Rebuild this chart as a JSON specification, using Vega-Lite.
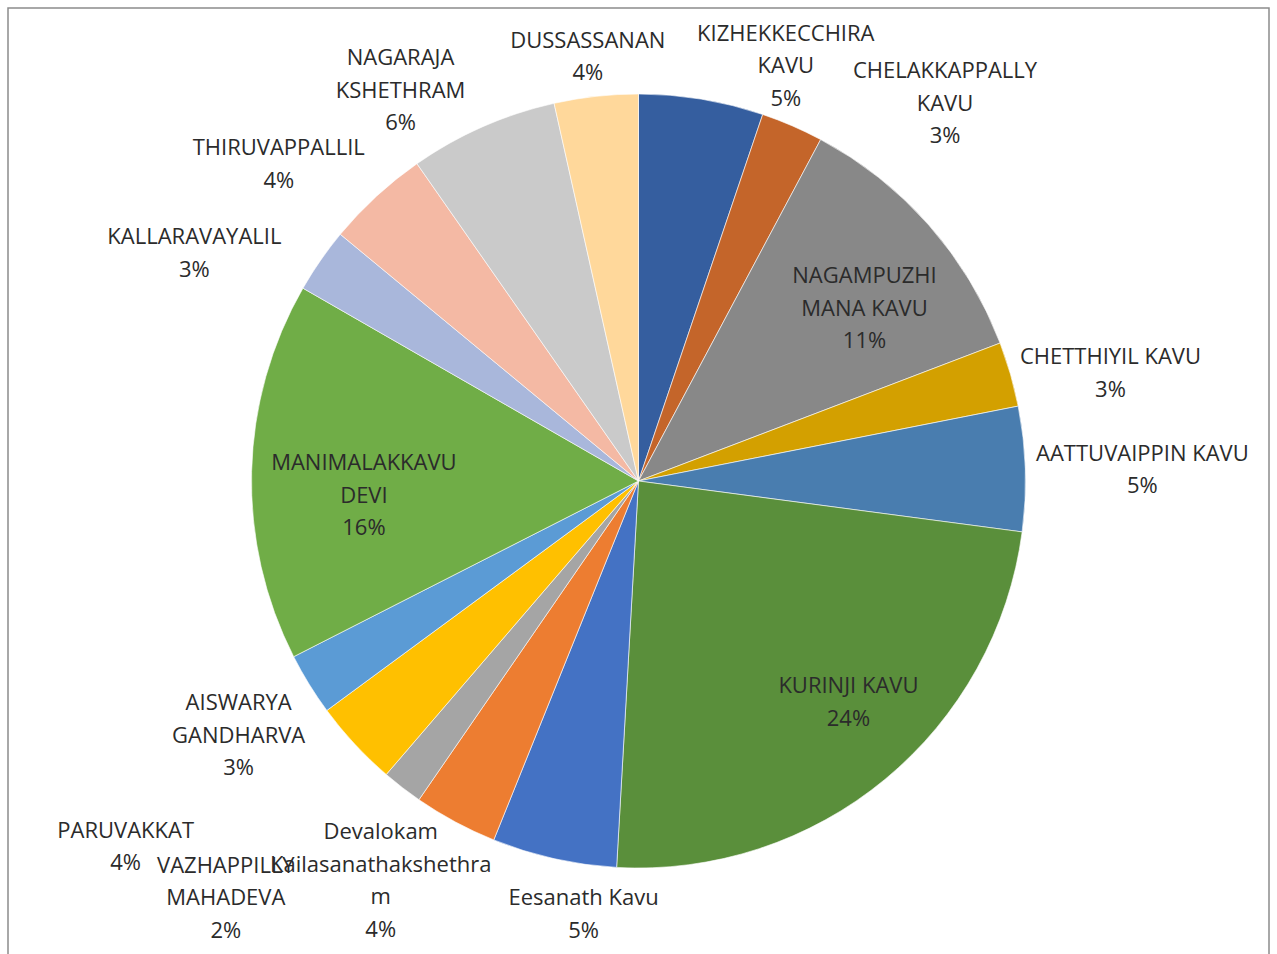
{
  "$schema": "https://vega.github.io/schema/vega-lite/v6.json",
  "width": 1261,
  "height": 946,
  "autosize": "none",
  "padding": {"left": 8, "top": 8, "right": 8, "bottom": 0},
  "background": "#ffffff",
  "config": {
    "view": {"stroke": null},
    "text": {"font": "Open Sans", "fontSize": 22, "lineHeight": 32.5, "lineBreak": "\n", "align": "center", "baseline": "middle", "color": "#2b2b2b"}
  },
  "layer": [
    {
      "data": {"values": [{"frame": 1}]},
      "mark": {"type": "rect", "fill": null, "stroke": "#8c8c8c", "strokeWidth": 1.5},
      "encoding": {
        "x": {"value": 0},
        "x2": {"value": "width"},
        "y": {"value": 0},
        "y2": {"value": {"expr": "height + 6"}}
      }
    },
    {
      "data": {
        "values": [
          {"i": 1, "name": "KIZHEKKECCHIRA KAVU", "label": "KIZHEKKECCHIRA\nKAVU\n5%", "value": 5.2},
          {"i": 2, "name": "CHELAKKAPPALLY KAVU", "label": "CHELAKKAPPALLY\nKAVU\n3%", "value": 2.6},
          {"i": 3, "name": "NAGAMPUZHI MANA KAVU", "label": "NAGAMPUZHI\nMANA KAVU\n11%", "value": 11.4},
          {"i": 4, "name": "CHETTHIYIL KAVU", "label": "CHETTHIYIL KAVU\n3%", "value": 2.7},
          {"i": 5, "name": "AATTUVAIPPIN KAVU", "label": "AATTUVAIPPIN KAVU\n5%", "value": 5.2},
          {"i": 6, "name": "KURINJI KAVU", "label": "KURINJI KAVU\n24%", "value": 23.8},
          {"i": 7, "name": "Eesanath Kavu", "label": "Eesanath Kavu\n5%", "value": 5.2},
          {"i": 8, "name": "Devalokam Kailasanathakshethram", "label": "Devalokam\nKailasanathakshethra\nm\n4%", "value": 3.5},
          {"i": 9, "name": "VAZHAPPILLY MAHADEVA", "label": "VAZHAPPILLY\nMAHADEVA\n2%", "value": 1.7},
          {"i": 10, "name": "PARUVAKKAT", "label": "PARUVAKKAT\n4%", "value": 3.6},
          {"i": 11, "name": "AISWARYA GANDHARVA", "label": "AISWARYA\nGANDHARVA\n3%", "value": 2.6},
          {"i": 12, "name": "MANIMALAKKAVU DEVI", "label": "MANIMALAKKAVU\nDEVI\n16%", "value": 15.8},
          {"i": 13, "name": "KALLARAVAYALIL", "label": "KALLARAVAYALIL\n3%", "value": 2.7},
          {"i": 14, "name": "THIRUVAPPALLIL", "label": "THIRUVAPPALLIL\n4%", "value": 4.3},
          {"i": 15, "name": "NAGARAJA KSHETHRAM", "label": "NAGARAJA\nKSHETHRAM\n6%", "value": 6.2},
          {"i": 16, "name": "DUSSASSANAN", "label": "DUSSASSANAN\n4%", "value": 3.5}
        ]
      },
      "encoding": {
        "theta": {"field": "value", "type": "quantitative", "stack": true},
        "order": {"field": "i", "type": "quantitative"}
      },
      "layer": [
        {
          "mark": {"type": "arc", "outerRadius": 387, "stroke": "#ffffff", "strokeWidth": 0.6},
          "encoding": {
            "color": {
              "field": "name",
              "type": "nominal",
              "legend": null,
              "scale": {
                "domain": ["KIZHEKKECCHIRA KAVU", "CHELAKKAPPALLY KAVU", "NAGAMPUZHI MANA KAVU", "CHETTHIYIL KAVU", "AATTUVAIPPIN KAVU", "KURINJI KAVU", "Eesanath Kavu", "Devalokam Kailasanathakshethram", "VAZHAPPILLY MAHADEVA", "PARUVAKKAT", "AISWARYA GANDHARVA", "MANIMALAKKAVU DEVI", "KALLARAVAYALIL", "THIRUVAPPALLIL", "NAGARAJA KSHETHRAM", "DUSSASSANAN"],
                "range": ["#355E9F", "#C4652A", "#888888", "#D3A000", "#497DAF", "#5A8F3B", "#4472C4", "#ED7D31", "#A5A5A5", "#FFC000", "#5B9BD5", "#70AD47", "#A9B7DB", "#F4B9A4", "#CACACA", "#FFD89B"]
              }
            }
          }
        },
        {
          "mark": {"type": "text", "radius": 440, "thetaOffset": 0.178, "dy": {"expr": "-(length(split(datum.label, '\\n')) - 1) * 16.25"}},
          "encoding": {"detail": {"field": "name"}, "text": {"condition": {"test": "datum.name == 'KIZHEKKECCHIRA KAVU'", "field": "label"}, "value": ""}}
        },
        {
          "mark": {"type": "text", "radius": 486, "thetaOffset": 0.274, "dy": {"expr": "-(length(split(datum.label, '\\n')) - 1) * 16.25"}},
          "encoding": {"detail": {"field": "name"}, "text": {"condition": {"test": "datum.name == 'CHELAKKAPPALLY KAVU'", "field": "label"}, "value": ""}}
        },
        {
          "mark": {"type": "text", "radius": 284, "thetaOffset": 0.072, "dy": {"expr": "-(length(split(datum.label, '\\n')) - 1) * 16.25"}},
          "encoding": {"detail": {"field": "name"}, "text": {"condition": {"test": "datum.name == 'NAGAMPUZHI MANA KAVU'", "field": "label"}, "value": ""}}
        },
        {
          "mark": {"type": "text", "radius": 484, "thetaOffset": 0.056, "dy": {"expr": "-(length(split(datum.label, '\\n')) - 1) * 16.25"}},
          "encoding": {"detail": {"field": "name"}, "text": {"condition": {"test": "datum.name == 'CHETTHIYIL KAVU'", "field": "label"}, "value": ""}}
        },
        {
          "mark": {"type": "text", "radius": 504, "thetaOffset": 0.01, "dy": {"expr": "-(length(split(datum.label, '\\n')) - 1) * 16.25"}},
          "encoding": {"detail": {"field": "name"}, "text": {"condition": {"test": "datum.name == 'AATTUVAIPPIN KAVU'", "field": "label"}, "value": ""}}
        },
        {
          "mark": {"type": "text", "radius": 305, "thetaOffset": -0.068, "dy": {"expr": "-(length(split(datum.label, '\\n')) - 1) * 16.25"}},
          "encoding": {"detail": {"field": "name"}, "text": {"condition": {"test": "datum.name == 'KURINJI KAVU'", "field": "label"}, "value": ""}}
        },
        {
          "mark": {"type": "text", "radius": 437, "thetaOffset": -0.094, "dy": {"expr": "-(length(split(datum.label, '\\n')) - 1) * 16.25"}},
          "encoding": {"detail": {"field": "name"}, "text": {"condition": {"test": "datum.name == 'Eesanath Kavu'", "field": "label"}, "value": ""}}
        },
        {
          "mark": {"type": "text", "radius": 476, "thetaOffset": 0.079, "dy": {"expr": "-(length(split(datum.label, '\\n')) - 1) * 16.25"}},
          "encoding": {"detail": {"field": "name"}, "text": {"condition": {"test": "datum.name == 'Devalokam Kailasanathakshethram'", "field": "label"}, "value": ""}}
        },
        {
          "mark": {"type": "text", "radius": 587, "thetaOffset": 0.123, "dy": {"expr": "-(length(split(datum.label, '\\n')) - 1) * 16.25"}},
          "encoding": {"detail": {"field": "name"}, "text": {"condition": {"test": "datum.name == 'VAZHAPPILLY MAHADEVA'", "field": "label"}, "value": ""}}
        },
        {
          "mark": {"type": "text", "radius": 630, "thetaOffset": 0.128, "dy": {"expr": "-(length(split(datum.label, '\\n')) - 1) * 16.25"}},
          "encoding": {"detail": {"field": "name"}, "text": {"condition": {"test": "datum.name == 'PARUVAKKAT'", "field": "label"}, "value": ""}}
        },
        {
          "mark": {"type": "text", "radius": 474, "thetaOffset": -0.014, "dy": {"expr": "-(length(split(datum.label, '\\n')) - 1) * 16.25"}},
          "encoding": {"detail": {"field": "name"}, "text": {"condition": {"test": "datum.name == 'AISWARYA GANDHARVA'", "field": "label"}, "value": ""}}
        },
        {
          "mark": {"type": "text", "radius": 275, "thetaOffset": -0.079, "dy": {"expr": "-(length(split(datum.label, '\\n')) - 1) * 16.25"}},
          "encoding": {"detail": {"field": "name"}, "text": {"condition": {"test": "datum.name == 'MANIMALAKKAVU DEVI'", "field": "label"}, "value": ""}}
        },
        {
          "mark": {"type": "text", "radius": 499, "thetaOffset": -0.133, "dy": {"expr": "-(length(split(datum.label, '\\n')) - 1) * 16.25"}},
          "encoding": {"detail": {"field": "name"}, "text": {"condition": {"test": "datum.name == 'KALLARAVAYALIL'", "field": "label"}, "value": ""}}
        },
        {
          "mark": {"type": "text", "radius": 479, "thetaOffset": -0.105, "dy": {"expr": "-(length(split(datum.label, '\\n')) - 1) * 16.25"}},
          "encoding": {"detail": {"field": "name"}, "text": {"condition": {"test": "datum.name == 'THIRUVAPPALLIL'", "field": "label"}, "value": ""}}
        },
        {
          "mark": {"type": "text", "radius": 457, "thetaOffset": -0.133, "dy": {"expr": "-(length(split(datum.label, '\\n')) - 1) * 16.25"}},
          "encoding": {"detail": {"field": "name"}, "text": {"condition": {"test": "datum.name == 'NAGARAJA KSHETHRAM'", "field": "label"}, "value": ""}}
        },
        {
          "mark": {"type": "text", "radius": 427, "thetaOffset": -0.009, "dy": {"expr": "-(length(split(datum.label, '\\n')) - 1) * 16.25"}},
          "encoding": {"detail": {"field": "name"}, "text": {"condition": {"test": "datum.name == 'DUSSASSANAN'", "field": "label"}, "value": ""}}
        }
      ]
    }
  ]
}
